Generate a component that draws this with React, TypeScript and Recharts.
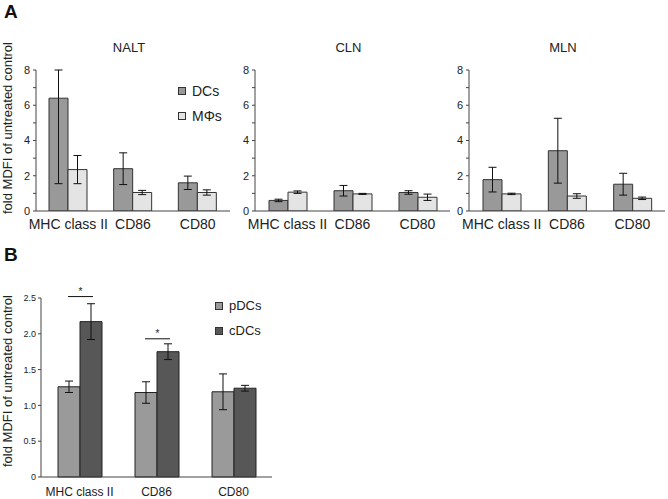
import React from 'react';
import { BarChart, Bar, XAxis, YAxis, ErrorBar, Legend, LabelList } from 'recharts';

const categories = ['MHC class II', 'CD86', 'CD80'];

// panel A: fold MDFI, DCs vs MΦs
const naltDC = [6.4, 2.4, 1.6];
const naltDCErr = [[4.85, 1.6], [0.9, 0.9], [0.38, 0.38]];
const naltMP = [2.35, 1.05, 1.05];
const naltMPErr = [0.8, 0.12, 0.15];

const clnDC = [0.6, 1.15, 1.05];
const clnDCErr = [0.07, 0.3, 0.1];
const clnMP = [1.07, 0.97, 0.78];
const clnMPErr = [0.07, 0.03, 0.18];

const mlnDC = [1.78, 3.42, 1.52];
const mlnDCErr = [0.7, 1.84, 0.62];
const mlnMP = [0.97, 0.85, 0.72];
const mlnMPErr = [0.04, 0.13, 0.07];

const ticksA = [0, 1, 2, 3, 4, 5, 6, 7, 8];

// panel B: pDCs vs cDCs
const pDC = [1.26, 1.18, 1.19];
const pDCErr = [0.08, 0.15, 0.25];
const cDC = [2.17, 1.75, 1.24];
const cDCErr = [0.25, 0.11, 0.04];
const sigLevel = [2.52, 1.93, null];
const ticksB = [0, 0.5, 1.0, 1.5, 2.0, 2.5];

const FONT = '"Liberation Sans", Arial, Helvetica, sans-serif';
const AXIS = '#444';
const TEXT = '#222';

const buildA = (dc: any[], dcErr: any[], mp: number[], mpErr: number[]) =>
    categories.map((name, i) => ({ name, dc: dc[i], dcErr: dcErr[i], mp: mp[i], mpErr: mpErr[i] }));

const dataB = categories.map((name, i) => ({
    name, pdc: pDC[i], pdcErr: pDCErr[i], cdc: cDC[i], cdcErr: cDCErr[i], sig: sigLevel[i],
}));

// legend keeps series order (recharts 3 sorts by name otherwise)
const LegendBox = ({ payload, fontSize, gap, order }: any) => {
    const items = [...(payload || [])].sort(
        (a: any, b: any) => order.indexOf(a.dataKey) - order.indexOf(b.dataKey));
    return (
        <div style={{ fontFamily: FONT, fontSize, color: TEXT }}>
            {items.map((p: any, i: number) => (
                <div key={i} style={{ display: 'flex', alignItems: 'center', height: gap }}>
                    <span style={{
                        display: 'inline-block', width: 6, height: 6, background: p.color,
                        border: '1px solid #333', marginRight: 6,
                    }} />
                    <span>{p.value}</span>
                </div>
            ))}
        </div>
    );
};

function SmallPanel({ data, left, width, title, legend }: any) {
    return (
        <div style={{ position: 'absolute', left, top: 60 }}>
            <div style={{
                position: 'absolute', left: 16, width: width - 20, top: -20, textAlign: 'center',
                fontFamily: FONT, fontSize: 13, color: TEXT,
            }}>{title}</div>
            <BarChart width={width} height={181} data={data} barGap={0} barSize={19}
                margin={{ top: 10, right: 0, bottom: 0, left: 0 }}>
                <XAxis dataKey="name" tickLine={false} tickSize={0} tickMargin={8} interval={0}
                    axisLine={{ stroke: AXIS }} tick={{ fontSize: 14, fill: TEXT, fontFamily: FONT }} />
                <YAxis width={20} domain={[0, 8]} ticks={ticksA} allowDataOverflow
                    tickFormatter={(v: number) => (v % 2 === 0 ? String(v) : '')}
                    tickSize={3} tickMargin={3} axisLine={{ stroke: AXIS }} tickLine={{ stroke: AXIS }}
                    tick={{ fontSize: 11, fill: TEXT, fontFamily: FONT }} />
                {legend && (
                    <Legend layout="vertical" verticalAlign="middle" align="center"
                        wrapperStyle={{ left: 162, top: 18, width: 60 }}
                        content={(props: any) => <LegendBox {...props} fontSize={14} gap={25} order={['dc', 'mp']} />} />
                )}
                <Bar dataKey="dc" name="DCs" fill="#999999" stroke="#333" strokeWidth={1} isAnimationActive={false}>
                    <ErrorBar dataKey="dcErr" width={4} stroke="#111" strokeWidth={1} />
                </Bar>
                <Bar dataKey="mp" name="MΦs" fill="#e4e4e4" stroke="#333" strokeWidth={1} isAnimationActive={false}>
                    <ErrorBar dataKey="mpErr" width={4} stroke="#111" strokeWidth={1} />
                </Bar>
            </BarChart>
        </div>
    );
}

const SigMark = (props: any) => {
    const { value, index } = props;
    if (value == null) return null;
    const vb = props.viewBox || props;
    const base = vb.y + vb.height;
    const pxPerUnit = vb.height / cDC[index];
    const ly = base - value * pxPerUnit;
    const x1 = vb.x - vb.width / 2 - 1;
    const x2 = vb.x + vb.width / 2 + 2;
    return (
        <g>
            <line x1={x1} x2={x2} y1={ly} y2={ly} stroke="#111" strokeWidth={1} />
            <text x={(x1 + x2) / 2} y={ly - 2} textAnchor="middle" fontSize={10} fill={TEXT} fontFamily={FONT}>*</text>
        </g>
    );
};

const yLabel = (top: number) => (
    <div style={{
        position: 'absolute', left: 7, top, width: 0, height: 0,
    }}>
        <div style={{
            position: 'absolute', transform: 'translate(-50%, -50%) rotate(-90deg)', whiteSpace: 'nowrap',
            fontFamily: FONT, fontSize: 13, color: TEXT,
        }}>fold MDFI of untreated control</div>
    </div>
);

export default function App() {
    return (
        <div style={{ position: 'absolute', left: 0, top: 0, width: 668, height: 499, background: '#fff', overflow: 'hidden' }}>
            <div style={{ position: 'absolute', left: 4, top: 1, fontFamily: FONT, fontWeight: 'bold', fontSize: 19, color: '#111' }}>A</div>
            <div style={{ position: 'absolute', left: 4, top: 244, fontFamily: FONT, fontWeight: 'bold', fontSize: 19, color: '#111' }}>B</div>
            {yLabel(128)}
            {yLabel(381)}

            <SmallPanel data={buildA(naltDC, naltDCErr, naltMP, naltMPErr)} left={16} width={214} title="NALT" legend />
            <SmallPanel data={buildA(clnDC, clnDCErr, clnMP, clnMPErr)} left={235} width={215} title="CLN" />
            <SmallPanel data={buildA(mlnDC, mlnDCErr, mlnMP, mlnMPErr)} left={449} width={216} title="MLN" />

            <div style={{ position: 'absolute', left: 16, top: 276 }}>
                <BarChart width={256} height={223} data={dataB} barGap={0} barSize={22}
                    margin={{ top: 22, right: 0, bottom: 0, left: 0 }}>
                    <XAxis dataKey="name" tickLine={false} tickSize={0} tickMargin={10} interval={0} height={22}
                        axisLine={{ stroke: AXIS }} tick={{ fontSize: 12, fill: TEXT, fontFamily: FONT }} />
                    <YAxis width={25} domain={[0, 2.5]} ticks={ticksB}
                        tickFormatter={(v: number) => (v === 0 ? '0' : v.toFixed(1))}
                        tickSize={3} tickMargin={2} axisLine={{ stroke: AXIS }} tickLine={{ stroke: AXIS }}
                        tick={{ fontSize: 9, fill: TEXT, fontFamily: FONT }} />
                    <Legend layout="vertical" verticalAlign="middle" align="center"
                        wrapperStyle={{ left: 199, top: 17, width: 60 }}
                        content={(props: any) => <LegendBox {...props} fontSize={13} gap={25} order={['pdc', 'cdc']} />} />
                    <Bar dataKey="pdc" name="pDCs" fill="#9a9a9a" stroke="#222" strokeWidth={1} isAnimationActive={false}>
                        <ErrorBar dataKey="pdcErr" width={4} stroke="#111" strokeWidth={1} />
                    </Bar>
                    <Bar dataKey="cdc" name="cDCs" fill="#575757" stroke="#222" strokeWidth={1} isAnimationActive={false}>
                        <ErrorBar dataKey="cdcErr" width={4} stroke="#111" strokeWidth={1} />
                        <LabelList dataKey="sig" content={SigMark} />
                    </Bar>
                </BarChart>
            </div>
        </div>
    );
}
